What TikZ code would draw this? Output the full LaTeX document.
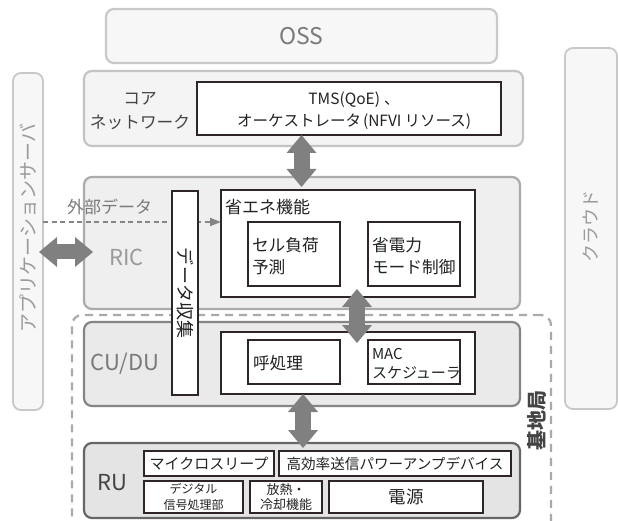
\documentclass[tikz,border=0pt]{standalone}
\usepackage{fontspec}
\setmainfont{Noto Sans CJK JP}
\usetikzlibrary{arrows.meta}
\definecolor{lightline}{HTML}{C8C8C8}
\definecolor{lightfill}{HTML}{F7F7F7}
\definecolor{coreline}{HTML}{C4C4C4}
\definecolor{corefill}{HTML}{F4F4F4}
\definecolor{ricline}{HTML}{ABABAB}
\definecolor{ricfill}{HTML}{EFEFEF}
\definecolor{culine}{HTML}{858585}
\definecolor{cufill}{HTML}{EAEAEA}
\definecolor{ruline}{HTML}{666666}
\definecolor{rufill}{HTML}{E4E4E4}
\definecolor{boxline}{HTML}{2E2626}
\definecolor{arrowgray}{HTML}{808080}
\definecolor{dashgray}{HTML}{AAAAAA}
\definecolor{dasharrow}{HTML}{858585}
\definecolor{txtlight}{HTML}{9A9A9A}
\definecolor{txtmid}{HTML}{7A7A7A}
\definecolor{txtdark}{HTML}{444444}
\definecolor{txtblack}{HTML}{222222}
\begin{document}
\begin{tikzpicture}[x=1pt,y=-1pt,
  sz/.style n args={2}{minimum width=#1pt, minimum height=#2pt, inner sep=0pt, outer sep=0pt},
  grp/.style={rounded corners=8pt, line width=2.2pt},
  wbox/.style={draw=boxline, fill=white, line width=1.3pt, text=txtblack},
  txt/.style={inner sep=0pt, outer sep=0pt, text=txtblack},
  bigarrow/.style={draw=arrowgray, line width=16pt,
     {Triangle[width=30pt,length=18pt,line width=0pt]}-{Triangle[width=30pt,length=18pt,line width=0pt]}},
]
\fill[white] (0,0) rectangle (618,521);
\useasboundingbox (0,0) rectangle (618,521);

% outer groups
\node[grp, sz={391}{54}, draw=lightline, fill=lightfill] (oss) at (301.5,36) {};
\node[txt, text=txtmid, font=\fontsize{23}{28}\selectfont] (osstxt) at (oss.center) {OSS};

\node[grp, sz={439}{75}, draw=coreline, fill=corefill] (core) at (303.5,108.5) {};
\node[txt, text=txtdark, align=center, font=\fontsize{16.7}{24}\selectfont] (coretxt) at (140,111) {コア\hspace{12pt}\\ネットワーク};
\node[wbox, sz={304}{53}] (tms) at (349,108.5) {};
\node[txt, align=center, font=\fontsize{15.5}{22}\selectfont] (tmstxt) at (354,111) {TMS(QoE)\hspace{4pt}、\\オーケストレータ\hspace{2pt}(NFVI\hspace{3pt}リソース)};

\node[grp, sz={30}{337}, draw=lightline, fill=lightfill, line width=1.8pt] (app) at (28,241.5) {};
\node[txt, rotate=90, text=txtlight, font=\fontsize{19}{22}\selectfont] (apptxt) at (28,228) {アプリケーションサーバ};

\node[grp, sz={52}{361}, draw=lightline, fill=lightfill, line width=1.8pt] (cloud) at (591,228.5) {};
\node[txt, rotate=90, text=txtlight, font=\fontsize{18}{22}\selectfont] (cloudtxt) at (591,226) {クラウド};

\node[grp, sz={436}{132}, draw=ricline, fill=ricfill] (ric) at (302,243) {};
\node[txt, text=txtlight, font=\fontsize{22}{26}\selectfont] (rictxt) at (126.5,257) {RIC};

% base station dashed frame
\node[sz={479}{245}, draw=dashgray, line width=2.2pt, dash pattern=on 8pt off 6pt, rounded corners=10pt] (base) at (311.5,437.5) {};
\node[txt, rotate=90, text=txtdark, font=\bfseries\fontsize{20}{24}\selectfont] (basetxt) at (537,420) {基地局};

\node[grp, sz={436}{84}, draw=culine, fill=cufill] (cu) at (302,364) {};
\node[txt, text=txtmid, font=\fontsize{22}{26}\selectfont] (cutxt) at (125,364) {CU/DU};

\node[grp, sz={436}{75}, draw=ruline, fill=rufill] (ru) at (302,480.5) {};
\node[txt, text=txtdark, font=\fontsize{22}{26}\selectfont] (rutxt) at (112,483) {RU};

% external data dashed arrow
\coordinate (ad) at (0,222);
\draw[draw=dasharrow, line width=1.8pt, dash pattern=on 5pt off 3.5pt,
      -{Triangle[width=8pt,length=11pt]}] (app.east |- ad) -- (221,222);
\node[txt, text=txtmid, font=\fontsize{17}{20}\selectfont] (exttxt) at (109.5,207) {外部データ};

% RIC inner
\node[wbox, sz={254}{107}] (ene) at (348,243.5) {};
\node[txt, anchor=west, font=\fontsize{17}{22}\selectfont] (enetxt) at (225,207) {省エネ機能};
\node[wbox, sz={92}{64}] (cell) at (294,254) {};
\node[txt, anchor=west, align=left, font=\fontsize{16.7}{22}\selectfont] (celltxt) at (252,256) {セル負荷\\予測};
\node[wbox, sz={92}{64}] (pwr) at (414,254) {};
\node[txt, anchor=west, align=left, font=\fontsize{16.7}{22}\selectfont] (pwrtxt) at (372,256) {省電力\\モード制御};

% CU/DU inner
\node[wbox, sz={254}{62}] (cuin) at (348,363) {};
\node[wbox, sz={92}{44}] (call) at (294,362) {};
\node[txt, anchor=west, font=\fontsize{16.7}{22}\selectfont] (calltxt) at (253,363) {呼処理};
\node[wbox, sz={92}{44}] (mac) at (414,362) {};
\node[txt, anchor=west, align=left, font=\fontsize{15}{19}\selectfont] (mactxt) at (372,363.5) {MAC\\スケジューラ};

% data collection
\node[wbox, sz={26}{204}] (data) at (185,293) {};
\node[txt, rotate=-90, font=\fontsize{18}{22}\selectfont] (datatxt) at (185,293) {データ収集};

% RU inner
\node[wbox, sz={130}{25}, font=\fontsize{15}{18}\selectfont] (micro) at (209,463.5) {マイクロスリープ};
\node[wbox, sz={232}{25}, font=\fontsize{14.6}{18}\selectfont] (hpa) at (395,463.5) {高効率送信パワーアンプデバイス};
\node[wbox, sz={99}{32}, align=center, font=\fontsize{12}{15.5}\selectfont] (dsp) at (193.5,497) {デジタル\\信号処理部};
\node[wbox, sz={72}{32}, align=center, font=\fontsize{13}{15.5}\selectfont] (heat) at (286,497) {放熱・\\冷却機能};
\node[wbox, sz={154}{32}, font=\fontsize{17.5}{20}\selectfont] (psu) at (406,497) {電源};

% big arrows
\coordinate (ax1) at (301.5,0);
\draw[bigarrow, shorten >=3pt] (tms.south -| ax1) -- (ene.north -| ax1);
\coordinate (ax2) at (357,0);
\draw[bigarrow] ([yshift=8pt]ene.south -| ax2) -- ([yshift=-11pt]cuin.north -| ax2);
\coordinate (ax3) at (303,0);
\draw[bigarrow] (cuin.south -| ax3) -- ([yshift=-5pt]ru.north -| ax3);
\coordinate (ah) at (0,252);
\draw[bigarrow, line width=15pt] ([xshift=-4pt]app.east |- ah) -- ([xshift=9pt]ric.west |- ah);
\end{tikzpicture}
\end{document}
